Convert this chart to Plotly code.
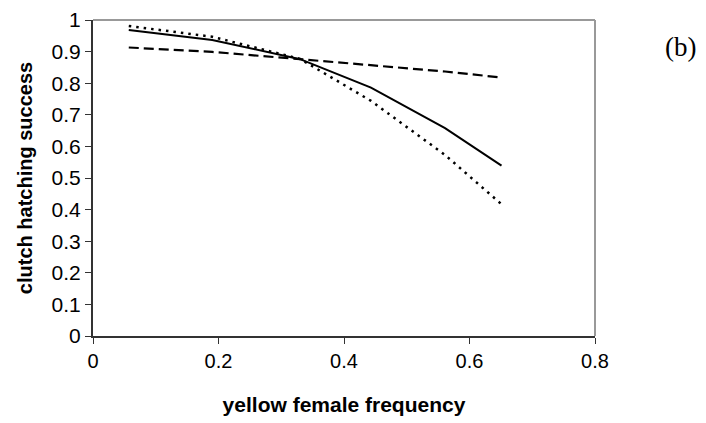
import plotly.graph_objects as go

x_freq = [0.057, 0.19, 0.33, 0.443, 0.561, 0.651]
solid_vals = [0.968, 0.937, 0.876, 0.786, 0.658, 0.539]
dotted_vals = [0.981, 0.947, 0.877, 0.744, 0.573, 0.417]
dashed_vals = [0.913, 0.899, 0.876, 0.858, 0.837, 0.818]

x_ticks = [0, 0.2, 0.4, 0.6, 0.8]
x_tick_text = ["0", "0.2", "0.4", "0.6", "0.8"]
y_ticks = [0, 0.1, 0.2, 0.3, 0.4, 0.5, 0.6, 0.7, 0.8, 0.9, 1]
y_tick_text = ["0", "0.1", "0.2", "0.3", "0.4", "0.5", "0.6", "0.7", "0.8", "0.9", "1"]

fig = go.Figure()
fig.add_trace(go.Scatter(x=x_freq, y=dashed_vals, mode="lines",
                         line=dict(color="black", width=2.2, dash="10px,5px")))
fig.add_trace(go.Scatter(x=x_freq, y=dotted_vals, mode="lines",
                         line=dict(color="black", width=2.5, dash="2.5px,5px")))
fig.add_trace(go.Scatter(x=x_freq, y=solid_vals, mode="lines",
                         line=dict(color="black", width=2)))

sans = "Liberation Sans, Arial, sans-serif"

fig.update_layout(
    width=698, height=415,
    margin=dict(l=85, r=111, t=12, b=87),
    paper_bgcolor="white", plot_bgcolor="white",
    showlegend=False,
    xaxis=dict(range=[0, 0.8], tickvals=x_ticks, ticktext=x_tick_text, automargin=False,
               showgrid=False, zeroline=False, showline=True, linecolor="#333333", linewidth=2,
               ticks="outside", ticklen=6, tickcolor="#333333", tickwidth=1,
               tickfont=dict(family=sans, size=20, color="black"),
               title=dict(text="<b>yellow female frequency</b>", standoff=26,
                          font=dict(family=sans, size=21, color="black"))),
    yaxis=dict(range=[0, 1], tickvals=y_ticks, ticktext=y_tick_text, automargin=False,
               showgrid=False, zeroline=False, showline=True, linecolor="#333333", linewidth=2,
               ticks="outside", ticklen=6, tickcolor="#333333", tickwidth=1,
               tickfont=dict(family=sans, size=21, color="black"),
               title=dict(text="<b>clutch hatching success</b>", standoff=14,
                          font=dict(family=sans, size=20, color="black"))),
)

# grey top/right frame
fig.add_shape(type="line", xref="paper", yref="paper", x0=0, x1=1, y0=1, y1=1,
              line=dict(color="#999999", width=2))
fig.add_shape(type="line", xref="paper", yref="paper", x0=1, x1=1, y0=0, y1=1,
              line=dict(color="#999999", width=2))

fig.add_annotation(text="(b)", xref="paper", yref="paper", x=1.171, y=0.915,
                   showarrow=False, xanchor="center", yanchor="middle",
                   font=dict(family="Liberation Serif, Times New Roman, serif", size=27, color="black"))

fig.write_html("out.html")
